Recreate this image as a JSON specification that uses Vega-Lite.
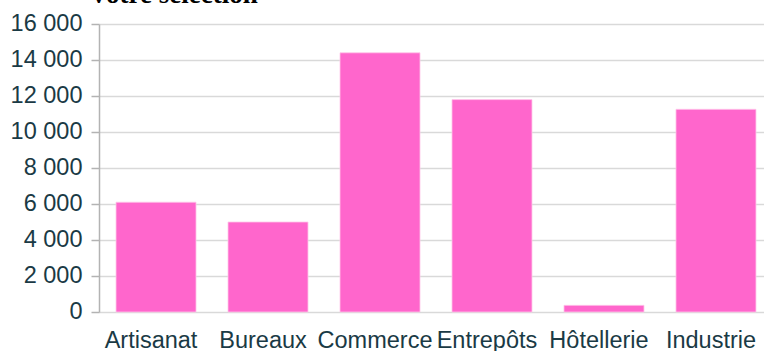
{
  "$schema": "https://vega.github.io/schema/vega-lite/v6.json",
  "autosize": {"type": "none"},
  "padding": {"left": 99, "top": 24, "right": 0, "bottom": 39},
  "width": 674,
  "height": 288,
  "background": "white",
  "title": {
    "text": "Votre sélection",
    "font": "Liberation Serif",
    "fontWeight": "bold",
    "fontSize": 27,
    "color": "#000000",
    "anchor": "start",
    "frame": "group",
    "baseline": "alphabetic",
    "dx": -10,
    "dy": 19,
    "offset": 0
  },
  "data": {
    "values": [
      {"type": "Artisanat", "value": 6100},
      {"type": "Bureaux", "value": 5000},
      {"type": "Commerce", "value": 14400},
      {"type": "Entrepôts", "value": 11800},
      {"type": "Hôtellerie", "value": 370},
      {"type": "Industrie", "value": 11260}
    ]
  },
  "mark": {"type": "bar", "color": "#FF66CC", "stroke": "#ffc6ea", "strokeWidth": 0.8},
  "encoding": {
    "x": {
      "field": "type",
      "type": "nominal",
      "sort": null,
      "scale": {"paddingInner": 0.2857, "paddingOuter": 0.152},
      "axis": {
        "title": null,
        "labelAngle": 0,
        "ticks": false,
        "domain": false,
        "labelPadding": 16,
        "labelOffset": -5,
        "labelFont": "Liberation Sans",
        "labelFontSize": 23.5,
        "labelColor": "#1a3a45",
        "labelBaseline": "top"
      }
    },
    "y": {
      "field": "value",
      "type": "quantitative",
      "scale": {"domain": [0, 16000], "nice": false},
      "axis": {
        "title": null,
        "values": [0, 2000, 4000, 6000, 8000, 10000, 12000, 14000, 16000],
        "format": ",.0f",
        "grid": true,
        "gridColor": "#d9d9d9",
        "gridWidth": 1.5,
        "domain": true,
        "domainColor": "#b3b3b3",
        "domainWidth": 1.5,
        "ticks": true,
        "tickSize": 8,
        "tickColor": "#b3b3b3",
        "tickWidth": 1.5,
        "labelPadding": 9,
        "labelOffset": -1,
        "labelFont": "Liberation Sans",
        "labelFontSize": 23.5,
        "labelColor": "#1a3a45"
      }
    }
  },
  "config": {
    "view": {"stroke": null},
    "locale": {
      "number": {"decimal": ",", "thousands": " ", "grouping": [3], "currency": ["", " €"]}
    }
  }
}
